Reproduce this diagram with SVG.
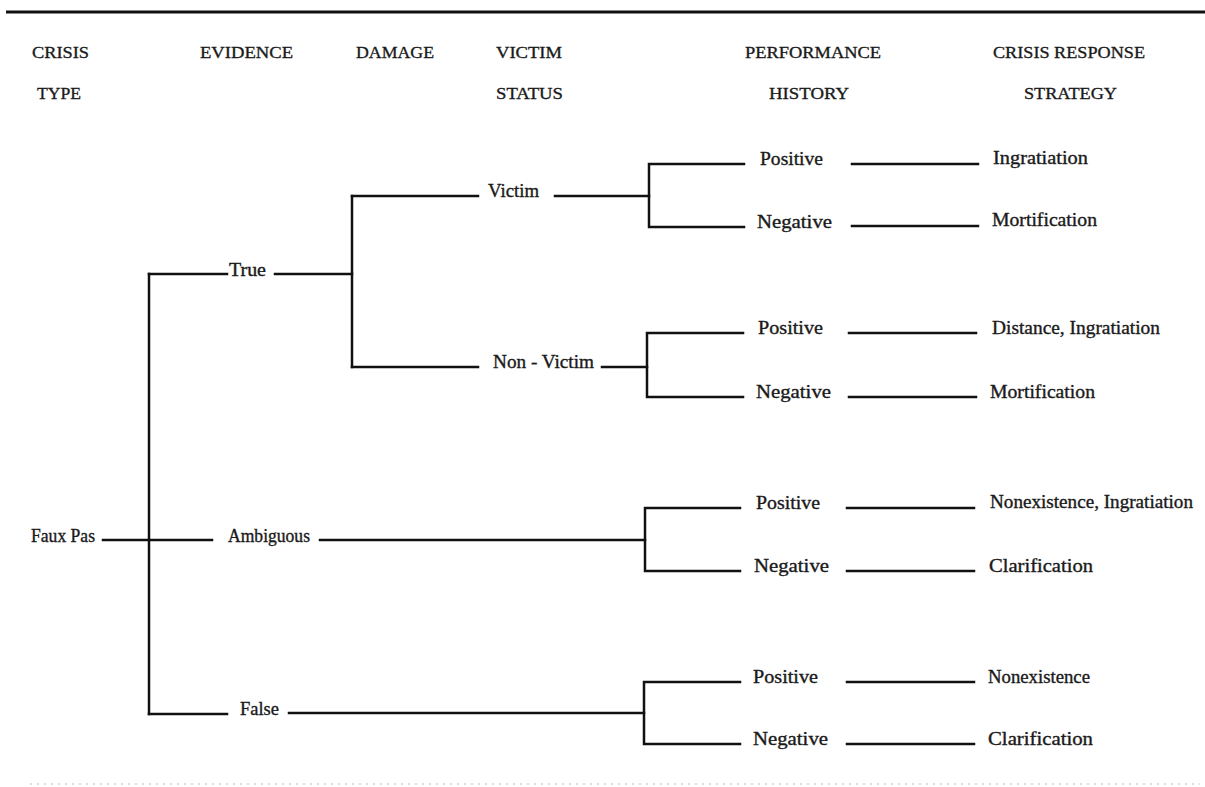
<svg xmlns="http://www.w3.org/2000/svg" width="1205" height="787" viewBox="0 0 1205 787">
<style>
text{font-family:"Liberation Serif","DejaVu Serif",serif;font-size:18px;fill:#1a1a1a;stroke:#1a1a1a;stroke-width:0.35}
.h{font-size:17.5px}
.c{stroke:#111;stroke-width:2.5;fill:none;stroke-linecap:square}
.rule{stroke:#111;stroke-width:2.8}
.scan{stroke:#d4d4d4;stroke-width:1.5;stroke-dasharray:2 5}
</style>
<rect width="1205" height="787" fill="#fff"/>
<line class="rule" x1="6" y1="12" x2="1205" y2="12"/>
<line class="scan" x1="30" y1="784" x2="1200" y2="784"/>
<g id="headers">
<text class="h" x="32" y="58" textLength="57" lengthAdjust="spacingAndGlyphs">CRISIS</text>
<text class="h" x="37" y="99" textLength="44" lengthAdjust="spacingAndGlyphs">TYPE</text>
<text class="h" x="200" y="58" textLength="93" lengthAdjust="spacingAndGlyphs">EVIDENCE</text>
<text class="h" x="356" y="58" textLength="78" lengthAdjust="spacingAndGlyphs">DAMAGE</text>
<text class="h" x="496" y="58" textLength="66" lengthAdjust="spacingAndGlyphs">VICTIM</text>
<text class="h" x="496" y="99" textLength="67" lengthAdjust="spacingAndGlyphs">STATUS</text>
<text class="h" x="745" y="58" textLength="136" lengthAdjust="spacingAndGlyphs">PERFORMANCE</text>
<text class="h" x="769" y="99" textLength="80" lengthAdjust="spacingAndGlyphs">HISTORY</text>
<text class="h" x="993" y="58" textLength="152" lengthAdjust="spacingAndGlyphs">CRISIS RESPONSE</text>
<text class="h" x="1024" y="99" textLength="93" lengthAdjust="spacingAndGlyphs">STRATEGY</text>
</g>
<g id="connectors">
<path class="c" d="M103 540H212"/>
<path class="c" d="M149 274V714"/>
<path class="c" d="M149 274H227M275 274H352"/>
<path class="c" d="M352 196V367"/>
<path class="c" d="M352 196H478M555 196H649"/>
<path class="c" d="M649 164V227M649 164H744M649 227H744"/>
<path class="c" d="M852 164H978M852 226H978"/>
<path class="c" d="M352 367H478M602 367H647"/>
<path class="c" d="M647 333V397M647 333H743M647 397H743"/>
<path class="c" d="M849 333H976M849 397H976"/>
<path class="c" d="M320 540H645"/>
<path class="c" d="M645 508V571M645 508H740M645 571H740"/>
<path class="c" d="M847 508H974M847 571H974"/>
<path class="c" d="M149 714H227M289 713H644"/>
<path class="c" d="M644 682V744M644 682H740M644 744H740"/>
<path class="c" d="M847 682H974M847 744H974"/>
</g>
<g id="n-fauxpas"><text x="31" y="542" textLength="64" lengthAdjust="spacingAndGlyphs">Faux Pas</text></g>
<g id="n-true"><text x="229" y="276" textLength="37" lengthAdjust="spacingAndGlyphs">True</text></g>
<g id="n-ambiguous"><text x="228" y="542" textLength="82" lengthAdjust="spacingAndGlyphs">Ambiguous</text></g>
<g id="n-false"><text x="240" y="715" textLength="39" lengthAdjust="spacingAndGlyphs">False</text></g>
<g id="n-victim"><text x="488" y="197" textLength="51" lengthAdjust="spacingAndGlyphs">Victim</text></g>
<g id="n-nonvictim"><text x="493" y="368" textLength="101" lengthAdjust="spacingAndGlyphs">Non - Victim</text></g>
<g id="n-pos1"><text x="760" y="165" textLength="63" lengthAdjust="spacingAndGlyphs">Positive</text></g>
<g id="n-neg1"><text x="757" y="228" textLength="75" lengthAdjust="spacingAndGlyphs">Negative</text></g>
<g id="n-pos2"><text x="758" y="334" textLength="65" lengthAdjust="spacingAndGlyphs">Positive</text></g>
<g id="n-neg2"><text x="756" y="398" textLength="75" lengthAdjust="spacingAndGlyphs">Negative</text></g>
<g id="n-pos3"><text x="756" y="509" textLength="64" lengthAdjust="spacingAndGlyphs">Positive</text></g>
<g id="n-neg3"><text x="754" y="572" textLength="75" lengthAdjust="spacingAndGlyphs">Negative</text></g>
<g id="n-pos4"><text x="753" y="683" textLength="65" lengthAdjust="spacingAndGlyphs">Positive</text></g>
<g id="n-neg4"><text x="753" y="745" textLength="75" lengthAdjust="spacingAndGlyphs">Negative</text></g>
<g id="s-1"><text x="993" y="164" textLength="95" lengthAdjust="spacingAndGlyphs">Ingratiation</text></g>
<g id="s-2"><text x="992" y="226" textLength="105" lengthAdjust="spacingAndGlyphs">Mortification</text></g>
<g id="s-3"><text x="992" y="334" textLength="168" lengthAdjust="spacingAndGlyphs">Distance, Ingratiation</text></g>
<g id="s-4"><text x="990" y="398" textLength="105" lengthAdjust="spacingAndGlyphs">Mortification</text></g>
<g id="s-5"><text x="990" y="508" textLength="203" lengthAdjust="spacingAndGlyphs">Nonexistence, Ingratiation</text></g>
<g id="s-6"><text x="989" y="572" textLength="104" lengthAdjust="spacingAndGlyphs">Clarification</text></g>
<g id="s-7"><text x="988" y="683" textLength="102" lengthAdjust="spacingAndGlyphs">Nonexistence</text></g>
<g id="s-8"><text x="988" y="745" textLength="105" lengthAdjust="spacingAndGlyphs">Clarification</text></g>
</svg>
